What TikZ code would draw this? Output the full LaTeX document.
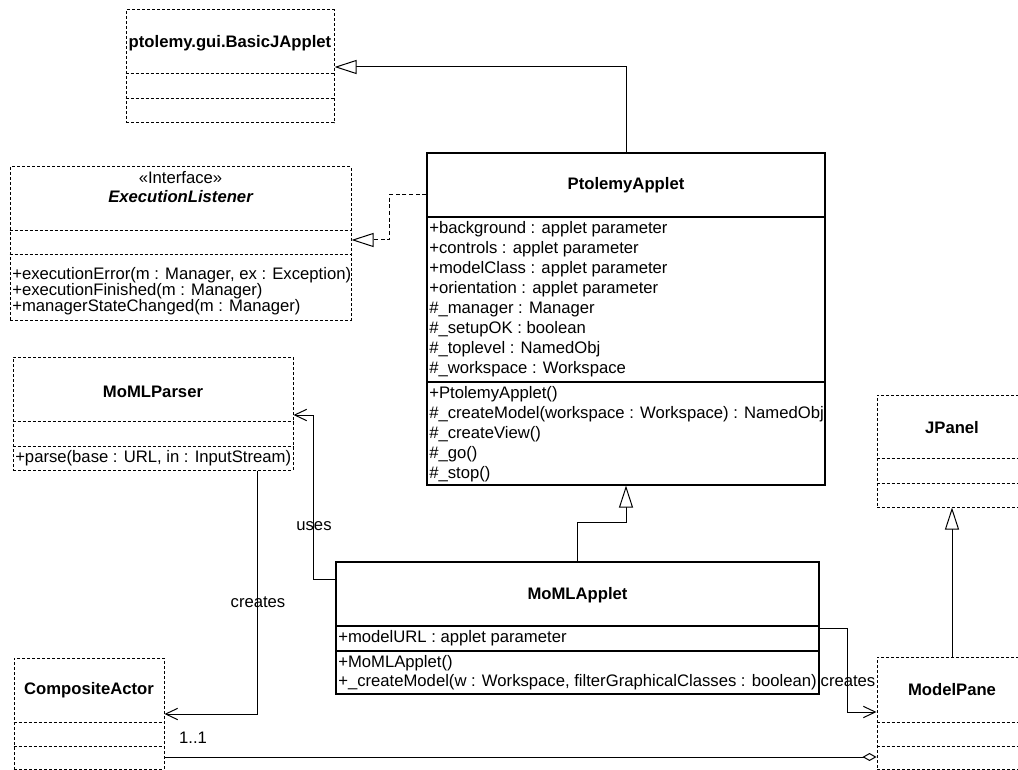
\documentclass[tikz,border=0pt]{standalone}
\usepackage{fontspec}
\setmainfont{Liberation Sans}
\usetikzlibrary{arrows.meta,fit}
\tikzset{
  box/.style={draw, line width=0.9pt, inner sep=0pt},
  dbox/.style={draw, line width=0.75pt, dash pattern=on 2.25pt off 1.5pt, inner sep=0pt},
  sline/.style={line width=0.9pt},
  dline/.style={line width=0.75pt, dash pattern=on 2.25pt off 1.5pt},
  txt/.style={inner sep=0pt, font=\fontsize{12.5}{15}\selectfont},
  ttl/.style={inner sep=0pt, font=\fontsize{12.5}{15}\selectfont\bfseries},
  gen/.style={draw, line width=0.75pt, -{Triangle[open, length=16.5pt, width=10.5pt, fill=white]}},
  dep/.style={draw, line width=0.75pt, -{Straight Barb[length=9pt, width=8.5pt]}},
  agg/.style={draw, line width=0.75pt, -{Diamond[open, length=10.5pt, width=6pt, fill=white]}},
}
\newcommand\classrows[5]{\foreach \t [count=\i from 0] in {#5} {\node[txt, anchor=west] (#1\i) at (#2, {#3+\i*#4}) {\t};}}
\begin{document}
\begin{tikzpicture}[x=0.75pt, y=-0.75pt]
\useasboundingbox (0,0) rectangle (1018,770);
\clip (0,0) rectangle (1018,770);
\fill[white] (0,0) rectangle (1018,770);

% ptolemy.gui.BasicJApplet
\node[dbox, fit={(126,10) (334,123)}] (basic) {};
\draw[dline] (basic.west |- 0,74) -- (basic.east |- 0,74);
\draw[dline] (basic.west |- 0,99) -- (basic.east |- 0,99);
\node[ttl] (basicT) at (230,43) {ptolemy.gui.BasicJApplet};

% ExecutionListener
\node[dbox, fit={(10,167) (351,320)}] (exec) {};
\draw[dline] (exec.west |- 0,231) -- (exec.east |- 0,231);
\draw[dline] (exec.west |- 0,255) -- (exec.east |- 0,255);
\node[txt] (execS) at (180.5,178) {«Interface»};
\node[ttl, font=\fontsize{12.5}{15}\selectfont\bfseries\itshape] (execT) at (180.5,197) {ExecutionListener};
\classrows{execM}{12}{275}{16}{{+executionError(m : Manager, ex : Exception)},{+executionFinished(m : Manager)},{+managerStateChanged(m : Manager)}}

% PtolemyApplet
\node[box, fit={(427,153) (825,485)}] (ptol) {};
\draw[sline] (ptol.west |- 0,217) -- (ptol.east |- 0,217);
\draw[sline] (ptol.west |- 0,382) -- (ptol.east |- 0,382);
\node[ttl] (ptolT) at (626,185) {PtolemyApplet};
\classrows{ptolA}{429}{229}{20}{{+background : applet parameter},{+controls : applet parameter},{+modelClass : applet parameter},{+orientation : applet parameter},{\#\_manager : Manager},{\#\_setupOK : boolean},{\#\_toplevel : NamedObj},{\#\_workspace : Workspace}}
\classrows{ptolM}{429}{394}{20}{{+PtolemyApplet()},{\#\_createModel(workspace : Workspace) : NamedObj},{\#\_createView()},{\#\_go()},{\#\_stop()}}

% MoMLParser
\node[dbox, fit={(13,357) (293,470)}] (parser) {};
\draw[dline] (parser.west |- 0,421) -- (parser.east |- 0,421);
\draw[dline] (parser.west |- 0,446) -- (parser.east |- 0,446);
\node[ttl] (parserT) at (153,392) {MoMLParser};
\classrows{parserM}{15}{458}{20}{{+parse(base : URL, in : InputStream)}}

% JPanel
\node[dbox, fit={(877,395) (1027,507)}] (jpanel) {};
\draw[dline] (jpanel.west |- 0,458) -- (jpanel.east |- 0,458);
\draw[dline] (jpanel.west |- 0,483) -- (jpanel.east |- 0,483);
\node[ttl] (jpanelT) at (952,428) {JPanel};

% MoMLApplet
\node[box, fit={(336,562) (819,694)}] (moml) {};
\draw[sline] (moml.west |- 0,626) -- (moml.east |- 0,626);
\draw[sline] (moml.west |- 0,651) -- (moml.east |- 0,651);
\node[ttl] (momlT) at (577.5,595) {MoMLApplet};
\classrows{momlA}{338}{638}{20}{{+modelURL : applet parameter}}
\classrows{momlM}{338}{663}{19.5}{{+MoMLApplet()},{+\_createModel(w : Workspace, filterGraphicalClasses : boolean)}}

% CompositeActor
\node[dbox, fit={(14,658) (164,769)}] (composite) {};
\draw[dline] (composite.west |- 0,722) -- (composite.east |- 0,722);
\draw[dline] (composite.west |- 0,746) -- (composite.east |- 0,746);
\node[ttl] (compositeT) at (89,690) {CompositeActor};

% ModelPane
\node[dbox, fit={(877,657) (1027,769)}] (mpane) {};
\draw[dline] (mpane.west |- 0,722) -- (mpane.east |- 0,722);
\draw[dline] (mpane.west |- 0,746) -- (mpane.east |- 0,746);
\node[ttl] (mpaneT) at (952,690) {ModelPane};

% connectors
\draw[gen] (ptol.north) |- (basic.east |- 0,67);
\draw[gen, dash pattern=on 3pt off 2pt] (ptol.west |- 0,195) -| (389,240) -- (exec.east |- 0,240);
\draw[gen] (moml.north) -- ++(0,-39) -| (ptol.south);
\draw[dep] (moml.west |- 0,579) -| (313,415) -- (parser.east |- 0,415);
\draw[dep] (parser.south -| 257,0) |- (composite.east |- 0,714);
\draw[dep] (moml.east |- 0,628) -| (847,712) -- (mpane.west |- 0,712);
\draw[gen] (mpane.north) -- (jpanel.south);
\draw[agg] (composite.east |- 0,757) -- (mpane.west |- 0,757);

% labels
\node[txt] (usesL) at (314,526) {uses};
\node[txt] (creates1L) at (258,602) {creates};
\node[txt] (creates2L) at (848,681) {creates};
\node[txt] (multL) at (193,738) {1..1};
\end{tikzpicture}
\end{document}
